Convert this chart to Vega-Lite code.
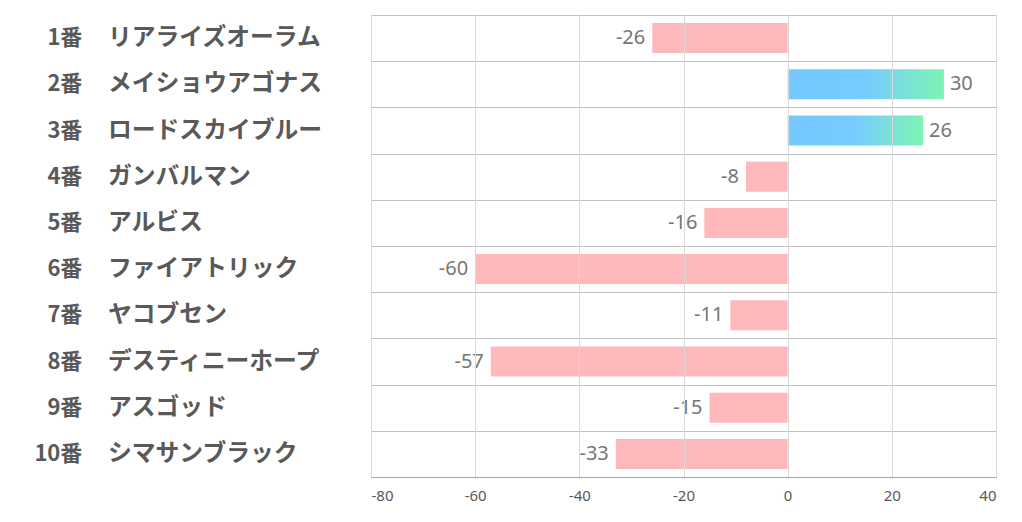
{
  "$schema": "https://vega.github.io/schema/vega-lite/v6.json",
  "padding": {"top": 15, "left": 0, "right": 5, "bottom": 5},
  "background": "white",
  "spacing": 0,
  "config": {"view": {"stroke": null}, "font": "Noto Sans CJK JP"},
  "data": {"values": [
    {"num": "1番", "name": "リアライズオーラム", "value": -26},
    {"num": "2番", "name": "メイショウアゴナス", "value": 30},
    {"num": "3番", "name": "ロードスカイブルー", "value": 26},
    {"num": "4番", "name": "ガンバルマン", "value": -8},
    {"num": "5番", "name": "アルビス", "value": -16},
    {"num": "6番", "name": "ファイアトリック", "value": -60},
    {"num": "7番", "name": "ヤコブセン", "value": -11},
    {"num": "8番", "name": "デスティニーホープ", "value": -57},
    {"num": "9番", "name": "アスゴッド", "value": -15},
    {"num": "10番", "name": "シマサンブラック", "value": -33}
  ]},
  "hconcat": [
    {
      "width": 371,
      "height": 462,
      "encoding": {
        "y": {"field": "num", "type": "nominal", "sort": null, "axis": null,
              "scale": {"paddingInner": 0, "paddingOuter": 0}}
      },
      "layer": [
        {
          "mark": {"type": "text", "align": "right", "baseline": "middle", "fontSize": 22, "fontWeight": "bold", "color": "#595959"},
          "encoding": {
            "x": {"datum": 0.222, "type": "quantitative", "scale": {"domain": [0, 1]}, "axis": null},
            "text": {"field": "num"}
          }
        },
        {
          "mark": {"type": "text", "align": "left", "baseline": "middle", "fontSize": 23.8, "fontWeight": "bold", "color": "#595959"},
          "encoding": {
            "x": {"datum": 0.291, "type": "quantitative", "scale": {"domain": [0, 1]}, "axis": null},
            "text": {"field": "name"}
          }
        }
      ]
    },
    {
      "width": 625,
      "height": 462,
      "encoding": {
        "y": {"field": "num", "type": "nominal",
              "sort": ["1番", "2番", "3番", "4番", "5番", "6番", "7番", "8番", "9番", "10番"],
              "scale": {"paddingInner": 0, "paddingOuter": 0},
              "axis": {"title": null, "labels": false, "ticks": false, "domain": false, "grid": true, "gridColor": "#bfbfbf", "tickBand": "extent"}},
        "x": {"field": "value", "type": "quantitative",
              "scale": {"domain": [-80, 40], "nice": false},
              "axis": {"title": null, "values": [-80, -60, -40, -20, 0, 20, 40], "labelExpr": "'' + datum.value", "ticks": false, "grid": true, "gridColor": "#d9d9d9", "domainColor": "#a6a6a6", "labelFontSize": 15, "labelColor": "#595959", "labelPadding": 11, "labelFont": "Noto Sans", "zindex": 1}}
      },
      "layer": [
        {
          "transform": [{"filter": "datum.value < 0"}],
          "mark": {"type": "bar", "color": "#FFB9BC", "height": {"band": 0.65}},
          "encoding": {"x2": {"datum": 0}}
        },
        {
          "transform": [{"filter": "datum.value >= 0"}],
          "mark": {"type": "bar", "height": {"band": 0.65}, "color": {"gradient": "linear", "x1": 0, "x2": 1, "y1": 0, "y2": 0,
            "stops": [{"offset": 0, "color": "#75C8FF"}, {"offset": 0.5, "color": "#78CBFF"}, {"offset": 1, "color": "#7CF5B2"}]}},
          "encoding": {"x2": {"datum": 0}}
        },
        {
          "transform": [{"filter": "datum.value < 0"}],
          "mark": {"type": "text", "align": "right", "baseline": "middle", "dx": -7, "fontSize": 20, "color": "#767676", "font": "Noto Sans"},
          "encoding": {"text": {"field": "value"}}
        },
        {
          "transform": [{"filter": "datum.value >= 0"}],
          "mark": {"type": "text", "align": "left", "baseline": "middle", "dx": 6, "fontSize": 20, "color": "#767676", "font": "Noto Sans"},
          "encoding": {"text": {"field": "value"}}
        }
      ]
    }
  ]
}
